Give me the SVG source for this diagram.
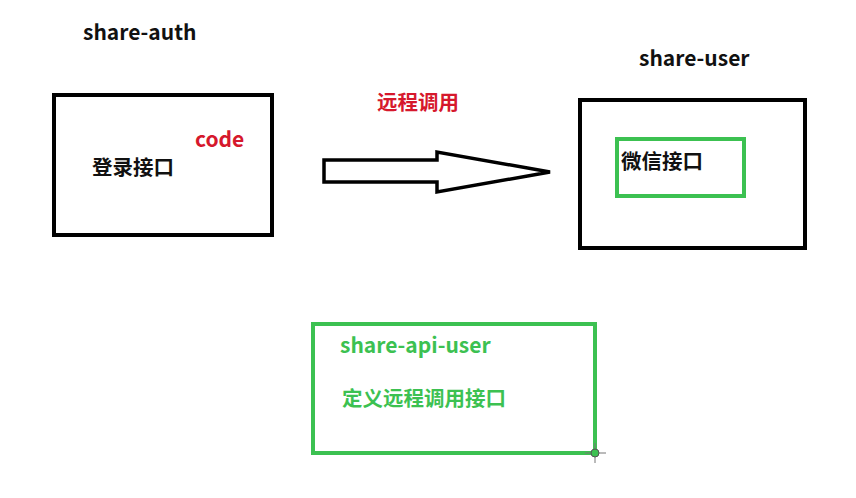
<svg xmlns="http://www.w3.org/2000/svg" width="856" height="498" viewBox="0 0 856 498">
<style>
.t{font-family:"Microsoft YaHei","Noto Sans CJK SC","Liberation Sans",sans-serif;font-weight:bold;font-size:20px}
.l{font-size:21px}
.c{font-size:20.5px}
.blk{fill:#111}
.red{fill:#d6182c}
.grn{fill:#3cc151}
.bbox{fill:none;stroke:#000;stroke-width:4}
.gbox{fill:none;stroke:#3cc151;stroke-width:4}
</style>
<rect width="856" height="498" fill="#fff"/>
<g id="share-auth">
<text class="t l blk" x="83" y="40">share-auth</text>
<rect class="bbox" x="54" y="95" width="218" height="140"/>
<text class="t l red" x="195" y="147">code</text>
<text class="t c blk" x="92" y="175">登录接口</text>
</g>
<g id="share-user">
<text class="t l blk" x="639" y="66">share-user</text>
<rect class="bbox" x="580" y="100" width="225" height="148"/>
<g id="wechat-api">
<rect class="gbox" x="617" y="139" width="127" height="57"/>
<text class="t c blk" x="621" y="169">微信接口</text>
</g>
</g>
<g id="connectors">
<path d="M324,160 H437 V152 L550,172 L437,192 V182 H324 Z" fill="#fff" stroke="#000" stroke-width="3.5" stroke-linejoin="miter"/>
<text class="t c red" x="377" y="110">远程调用</text>
</g>
<g id="share-api-user">
<rect class="gbox" x="313" y="324" width="282" height="129"/>
<text class="t l grn" x="340" y="353">share-api-user</text>
<text class="t c grn" x="342" y="406">定义远程调用接口</text>
</g>
<g id="cursor">
<line x1="595" y1="443" x2="595" y2="463" stroke="#777" stroke-width="1"/>
<line x1="585" y1="453" x2="606" y2="453" stroke="#777" stroke-width="1"/>
<circle cx="595" cy="453" r="4" fill="#3cc151" stroke="#555" stroke-width="1"/>
</g>
</svg>
